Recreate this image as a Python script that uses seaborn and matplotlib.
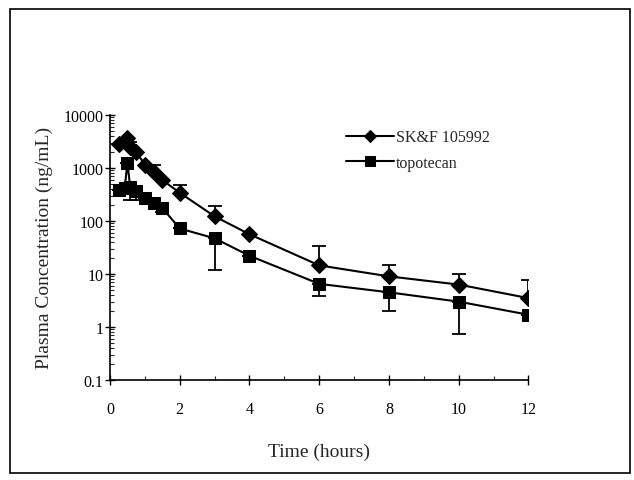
import matplotlib
matplotlib.use("Agg")
import matplotlib.pyplot as plt
import matplotlib.ticker as mticker
import numpy as np
import pandas as pd
import seaborn as sns

# SK&F 105992 (diamonds), mean concentration and upper error bar ends
skf_time = [0.25, 0.5, 0.58, 0.75, 1.0, 1.25, 1.5, 2, 3, 4, 6, 8, 10, 12]
skf_conc = [2800, 3700, 2500, 2000, 1150, 830, 590, 340, 122, 56, 14.5, 9, 6.3, 3.5]
skf_upper = [2800, 3700, 3100, 2000, 1150, 1150, 590, 480, 190, 56, 33, 15, 10, 7.8]

# topotecan (squares), mean concentration and lower error bar ends
topo_time = [0.25, 0.42, 0.5, 0.58, 0.75, 1.0, 1.25, 1.5, 2, 3, 4, 6, 8, 10, 12]
topo_conc = [390, 410, 1250, 430, 370, 270, 220, 175, 72, 47, 22, 6.5, 4.5, 3.0, 1.7]
topo_lower = [390, 410, 1250, 250, 250, 270, 220, 150, 72, 12, 22, 3.8, 2.0, 0.75, 1.7]

y_ticks = [0.1, 1, 10, 100, 1000, 10000]
y_tick_labels = ["0.1", "1", "10", "100", "1000", "10000"]
x_ticks = [0, 2, 4, 6, 8, 10, 12]

sns.set_style("ticks")
plt.rcParams["font.family"] = ["Liberation Serif", "DejaVu Serif"]

fig = plt.figure(figsize=(6.34, 4.81), dpi=100)
ax = fig.add_axes([0.1735, 0.208, 0.66, 0.551])

df_skf = pd.DataFrame({"time": skf_time, "conc": skf_conc})
df_topo = pd.DataFrame({"time": topo_time, "conc": topo_conc})

# one-sided error bars
skf_c = np.array(skf_conc)
ax.errorbar(skf_time, skf_conc,
            yerr=[np.zeros_like(skf_c), np.array(skf_upper) - skf_c],
            fmt="none", ecolor="black", elinewidth=1.3, capsize=5, capthick=1.3)
topo_c = np.array(topo_conc)
ax.errorbar(topo_time, topo_conc,
            yerr=[topo_c - np.array(topo_lower), np.zeros_like(topo_c)],
            fmt="none", ecolor="black", elinewidth=1.3, capsize=5, capthick=1.3)

sns.lineplot(data=df_skf, x="time", y="conc", ax=ax, color="black",
             marker="D", markersize=8, markeredgecolor="black", linewidth=1.5,
             label="SK&F 105992", sort=False)
sns.lineplot(data=df_topo, x="time", y="conc", ax=ax, color="black",
             marker="s", markersize=9, markeredgecolor="black", linewidth=1.5,
             label="topotecan", sort=False)

ax.set_yscale("log")
ax.set_ylim(0.1, 10000)
ax.set_xlim(0, 12)
ax.set_yticks(y_ticks)
ax.set_yticklabels(y_tick_labels)
ax.yaxis.set_minor_locator(mticker.LogLocator(base=10, subs=np.arange(2, 10)))
ax.yaxis.set_minor_formatter(mticker.NullFormatter())
ax.set_xticks(x_ticks)
ax.xaxis.set_minor_locator(mticker.MultipleLocator(1))

ax.tick_params(axis="both", which="major", direction="inout", length=7,
               width=1, labelsize=11.5, colors="black")
ax.tick_params(axis="both", which="minor", direction="in", length=3, width=0.8)
ax.tick_params(axis="x", which="major", pad=12)
ax.tick_params(axis="y", which="major", pad=1)

for side in ["top", "right"]:
    ax.spines[side].set_visible(False)
for side in ["left", "bottom"]:
    ax.spines[side].set_linewidth(1.2)
    ax.spines[side].set_color("black")

ax.set_xlabel("Time (hours)", fontsize=14, labelpad=18)
ax.set_ylabel("Plasma Concentration (ng/mL)", fontsize=14, labelpad=8)

ax.legend(loc="upper left", bbox_to_anchor=(0.53, 1.0), frameon=False,
          fontsize=11.5, handlelength=3.0, handletextpad=0.1, labelspacing=0.6,
          markerscale=0.75)

# border around the whole figure
fig.patches.append(plt.Rectangle((0.016, 0.0146), 0.978, 0.965,
                                 transform=fig.transFigure, fill=False,
                                 edgecolor="black", linewidth=1.2))

fig.savefig("out.png", dpi=100)
